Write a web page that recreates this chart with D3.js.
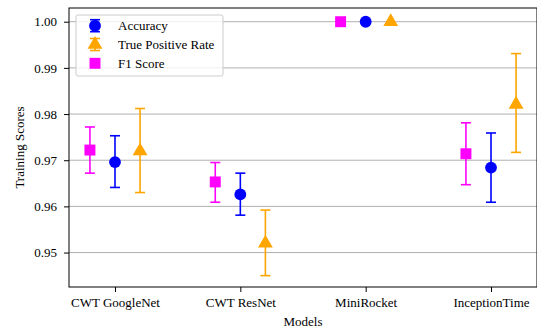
<!DOCTYPE html>
<meta charset="utf-8">
<style>
    body { margin: 0; background: white; }
    svg text { font-family: "Liberation Serif", "Times New Roman", Times, serif !important; }
</style>
<body>
<script src="https://cdn.jsdelivr.net/npm/d3@7"></script>
<script>
    // chart data
    const models = ["CWT GoogleNet", "CWT ResNet", "MiniRocket", "InceptionTime"];
    const seriesNames = ["Accuracy", "True Positive Rate", "F1 Score"];
    const accuracy = [0.9696, 0.9626, 1.0, 0.9684];
    const accuracyLo = [0.9641, 0.9581, 1.0, 0.9609];
    const accuracyHi = [0.9753, 0.9672, 1.0, 0.9759];
    const tpr = [0.9720, 0.9520, 1.0, 0.9821];
    const tprLo = [0.9630, 0.9450, 1.0, 0.9717];
    const tprHi = [0.9812, 0.9592, 1.0, 0.9931];
    const f1 = [0.9722, 0.9653, 1.0, 0.9714];
    const f1Lo = [0.9672, 0.9609, 1.0, 0.9647];
    const f1Hi = [0.9772, 0.9695, 1.0, 0.9781];
    const yTicks = [0.95, 0.96, 0.97, 0.98, 0.99, 1.00];

    const W = 537, H = 328;
    const margin = {top: 8, right: 0, bottom: 41, left: 69};
    const width = W - margin.left - margin.right;
    const height = H - margin.top - margin.bottom;
    const fs = 13;

    const series = [
        {name: "F1 Score", vals: f1, lo: f1Lo, hi: f1Hi, color: "#ff00ff", shape: d3.symbolSquare, size: 120, off: -0.2},
        {name: "Accuracy", vals: accuracy, lo: accuracyLo, hi: accuracyHi, color: "#0000ff", shape: d3.symbolCircle, size: 110, off: 0},
        {name: "True Positive Rate", vals: tpr, lo: tprLo, hi: tprHi, color: "#ffa500", shape: d3.symbolTriangle, size: 95, off: 0.2}
    ];

    const svg = d3.select("body").append("svg")
        .attr("width", W).attr("height", H);
    const g = svg.append("g").attr("transform", `translate(${margin.left},${margin.top})`);

    const x = d3.scaleLinear().domain([-0.367, 3.367]).range([0, width]);
    const y = d3.scaleLinear().domain([0.94254, 1.00297]).range([height, 0]);

    // grid
    g.append("g").selectAll("line").data(yTicks).enter().append("line")
        .attr("x1", 0).attr("x2", width)
        .attr("y1", d => y(d)).attr("y2", d => y(d))
        .attr("stroke", "#b0b0b0").attr("stroke-width", 1);

    // axes
    const yAxis = d3.axisLeft(y).tickValues(yTicks).tickFormat(d3.format(".2f")).tickSize(5).tickPadding(7);
    const xAxis = d3.axisBottom(x).tickValues(d3.range(models.length)).tickFormat(i => models[i]).tickSize(5).tickPadding(6);

    const ya = g.append("g").call(yAxis);
    const xa = g.append("g").attr("transform", `translate(0,${height})`).call(xAxis);
    [ya, xa].forEach(a => {
        a.select(".domain").remove();
        a.selectAll("text").attr("font-size", fs).attr("fill", "#000");
        a.selectAll("line").attr("stroke", "#000").attr("stroke-width", 1);
    });

    // frame
    g.append("rect").attr("x", 0).attr("y", 0).attr("width", width).attr("height", height)
        .attr("fill", "none").attr("stroke", "#000").attr("stroke-width", 1);

    // error bars + markers
    series.forEach(s => {
        const grp = g.append("g");
        const idx = d3.range(models.length).filter(i => s.hi[i] > s.lo[i]);
        grp.selectAll(".eb").data(idx).enter().append("line")
            .attr("x1", i => x(i + s.off)).attr("x2", i => x(i + s.off))
            .attr("y1", i => y(s.lo[i])).attr("y2", i => y(s.hi[i]))
            .attr("stroke", s.color).attr("stroke-width", 1.6);
        [s.lo, s.hi].forEach(arr => {
            grp.selectAll(null).data(idx).enter().append("line")
                .attr("x1", i => x(i + s.off) - 5).attr("x2", i => x(i + s.off) + 5)
                .attr("y1", i => y(arr[i])).attr("y2", i => y(arr[i]))
                .attr("stroke", s.color).attr("stroke-width", 1.6);
        });
        grp.selectAll("path").data(s.vals).enter().append("path")
            .attr("d", d3.symbol().type(s.shape).size(s.size))
            .attr("transform", (d, i) => `translate(${x(i + s.off)},${y(d)})`)
            .attr("fill", s.color);
    });

    // legend
    const leg = g.append("g").attr("transform", "translate(7,7)");
    leg.append("rect").attr("width", 147).attr("height", 61).attr("rx", 2)
        .attr("fill", "white").attr("fill-opacity", 0.8)
        .attr("stroke", "#cccccc").attr("stroke-width", 1);
    seriesNames.forEach((name, k) => {
        const s = series.find(d => d.name === name);
        const row = leg.append("g").attr("transform", `translate(19,${10.7 + k * 18.8})`);
        if (name !== "F1 Score") {
            row.append("line").attr("y1", -6).attr("y2", 6).attr("stroke", s.color).attr("stroke-width", 1.6);
            row.append("line").attr("x1", -5).attr("x2", 5).attr("y1", -6).attr("y2", -6).attr("stroke", s.color).attr("stroke-width", 1.6);
            row.append("line").attr("x1", -5).attr("x2", 5).attr("y1", 6).attr("y2", 6).attr("stroke", s.color).attr("stroke-width", 1.6);
        }
        row.append("path")
            .attr("d", d3.symbol().type(s.shape).size(s.size))
            .attr("fill", s.color);
        row.append("text").attr("x", 23).attr("y", 4.5).attr("font-size", fs).text(name);
    });

    // axis labels
    svg.append("text").attr("x", margin.left + width / 2).attr("y", 326)
        .attr("text-anchor", "middle").attr("font-size", fs).text("Models");
    svg.append("text").attr("transform", `translate(24,${margin.top + height / 2}) rotate(-90)`)
        .attr("text-anchor", "middle").attr("font-size", fs).text("Training Scores");
</script>
</body>
